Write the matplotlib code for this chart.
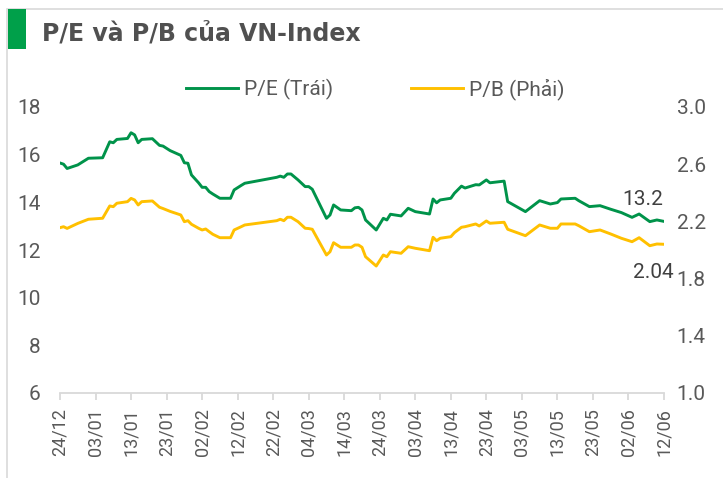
import pandas as pd
import matplotlib
matplotlib.use("Agg")
import matplotlib.pyplot as plt
import matplotlib.dates as mdates
from matplotlib.patches import Rectangle

# data (2022-12-24 .. 2023-06-12)
dates = ["2022-12-24", "2022-12-25", "2022-12-26", "2022-12-29", "2023-01-01",
         "2023-01-05", "2023-01-07", "2023-01-08", "2023-01-09", "2023-01-12",
         "2023-01-13", "2023-01-14", "2023-01-15", "2023-01-16", "2023-01-19",
         "2023-01-21", "2023-01-22", "2023-01-24", "2023-01-27", "2023-01-28",
         "2023-01-29", "2023-01-30", "2023-02-01", "2023-02-02", "2023-02-03",
         "2023-02-04", "2023-02-05", "2023-02-07", "2023-02-10", "2023-02-11",
         "2023-02-13", "2023-02-14", "2023-02-23", "2023-02-24", "2023-02-25",
         "2023-02-26", "2023-02-27", "2023-03-01", "2023-03-03", "2023-03-04",
         "2023-03-05", "2023-03-09", "2023-03-10", "2023-03-11", "2023-03-13",
         "2023-03-16", "2023-03-17", "2023-03-18", "2023-03-19", "2023-03-20",
         "2023-03-23", "2023-03-25", "2023-03-26", "2023-03-27", "2023-03-30",
         "2023-04-01", "2023-04-03", "2023-04-07", "2023-04-08", "2023-04-09",
         "2023-04-10", "2023-04-13", "2023-04-14", "2023-04-16", "2023-04-17",
         "2023-04-20", "2023-04-21", "2023-04-23", "2023-04-24", "2023-04-28",
         "2023-04-29", "2023-05-04", "2023-05-08", "2023-05-11", "2023-05-13",
         "2023-05-14", "2023-05-18", "2023-05-19", "2023-05-22", "2023-05-25",
         "2023-05-28", "2023-05-31", "2023-06-03", "2023-06-05", "2023-06-08",
         "2023-06-10", "2023-06-12"]

pe = [15.65, 15.60, 15.42, 15.57, 15.85, 15.87, 16.54, 16.50, 16.64, 16.68,
      16.92, 16.83, 16.50, 16.64, 16.67, 16.39, 16.36, 16.17, 15.97, 15.66,
      15.64, 15.15, 14.82, 14.63, 14.63, 14.45, 14.35, 14.17, 14.17, 14.52,
      14.71, 14.80, 15.05, 15.10, 15.05, 15.19, 15.19, 14.94, 14.66, 14.66,
      14.55, 13.33, 13.47, 13.89, 13.68, 13.65, 13.77, 13.79, 13.68, 13.26,
      12.84, 13.33, 13.26, 13.50, 13.43, 13.75, 13.61, 13.51, 14.14, 13.98,
      14.10, 14.17, 14.38, 14.68, 14.60, 14.74, 14.73, 14.94, 14.82, 14.89,
      14.03, 13.61, 14.07, 13.93, 13.99, 14.14, 14.17, 14.07, 13.82, 13.86,
      13.71, 13.57, 13.37, 13.51, 13.19, 13.26, 13.20]

pb = [2.156, 2.163, 2.151, 2.186, 2.215, 2.222, 2.308, 2.303, 2.327, 2.338,
      2.361, 2.350, 2.315, 2.338, 2.343, 2.299, 2.290, 2.270, 2.245, 2.198,
      2.205, 2.180, 2.152, 2.140, 2.147, 2.128, 2.110, 2.086, 2.086, 2.140,
      2.163, 2.175, 2.205, 2.215, 2.205, 2.229, 2.229, 2.198, 2.152, 2.150,
      2.145, 1.965, 1.988, 2.051, 2.019, 2.019, 2.035, 2.035, 2.019, 1.953,
      1.888, 1.965, 1.953, 1.988, 1.977, 2.023, 2.012, 1.995, 2.089, 2.065,
      2.082, 2.093, 2.121, 2.159, 2.163, 2.182, 2.168, 2.203, 2.187, 2.194,
      2.145, 2.100, 2.175, 2.152, 2.152, 2.182, 2.182, 2.170, 2.128, 2.140,
      2.112, 2.082, 2.058, 2.086, 2.030, 2.042, 2.040]

pe_label = "13.2"
pb_label = "2.04"
left_ticks = [6, 8, 10, 12, 14, 16, 18]
right_ticks = [1.0, 1.4, 1.8, 2.2, 2.6, 3.0]

green = "#00934a"
yellow = "#ffc000"
grey = "#595959"
axis_grey = "#d9d9d9"

x = pd.to_datetime(dates)
font = "Roboto"

fig = plt.figure(figsize=(7.23, 4.78), dpi=100)
ax = fig.add_axes([60 / 723, 1 - 393 / 478, 604 / 723, 286 / 478])
ax2 = ax.twinx()

l1, = ax.plot(x, pe, color=green, lw=2.1, label="P/E (Trái)")
l2, = ax2.plot(x, pb, color=yellow, lw=2.1, label="P/B (Phải)")

ax.set_xlim(x[0], x[-1])
ax.set_ylim(6, 18)
ax2.set_ylim(1.0, 3.0)
ax.set_yticks(left_ticks)
ax2.set_yticks(right_ticks)
ax2.set_yticklabels([f"{v:.1f}" for v in right_ticks])

ticks = pd.date_range(x[0], x[-1], freq="10D")
ax.set_xticks(ticks)
ax.xaxis.set_major_formatter(mdates.DateFormatter("%d/%m"))

for a in (ax, ax2):
    for s in a.spines.values():
        s.set_visible(False)
ax.spines["bottom"].set_visible(True)
ax.spines["bottom"].set_color(axis_grey)
ax.spines["bottom"].set_linewidth(1.3)

ax.tick_params(axis="x", colors=axis_grey, length=5, width=1.3, pad=6,
               labelcolor=grey, labelrotation=90)
ax.tick_params(axis="y", length=0, pad=14, labelcolor=grey)
ax2.tick_params(axis="y", length=0, pad=9, labelcolor=grey)
for lab in ax.get_xticklabels():
    lab.set_family(font)
    lab.set_fontsize(13)
for lab in ax.get_yticklabels() + ax2.get_yticklabels():
    lab.set_family(font)
    lab.set_fontsize(15)

# end-of-line value labels
ax.annotate(pe_label, (x[-1], 14.1), xytext=(-1, 0), textcoords="offset pixels",
            ha="right", va="center", fontsize=15, color="#404040", family=font)
ax2.annotate(pb_label, (x[-1], 1.846), xytext=(10, 0), textcoords="offset pixels",
             ha="right", va="center", fontsize=15, color="#404040", family=font)

fig.legend(handles=[l1, l2], loc="center left", bbox_to_anchor=(186 / 723, 1 - 89 / 478),
           ncol=2, frameon=False, prop={"family": font, "size": 15}, handlelength=2.5,
           handletextpad=0.3, columnspacing=3.7, borderaxespad=0, borderpad=0,
           labelcolor=grey)

# card frame and title
fig.add_artist(Rectangle((7 / 723, -0.1), 1.0, 1 - 9 / 478 + 0.1, transform=fig.transFigure,
                         fill=False, edgecolor="#d9d9d9", lw=1.2))
fig.add_artist(Rectangle((8 / 723, 1 - 49 / 478), 18 / 723, 40 / 478, transform=fig.transFigure,
                         color="#00a04a", lw=0))
fig.text(42 / 723, 1 - 34 / 478, "P/E và P/B của VN-Index", fontsize=17,
         fontweight="bold", color="#505050", va="center", ha="left")

fig.savefig("out.png", dpi=100)
